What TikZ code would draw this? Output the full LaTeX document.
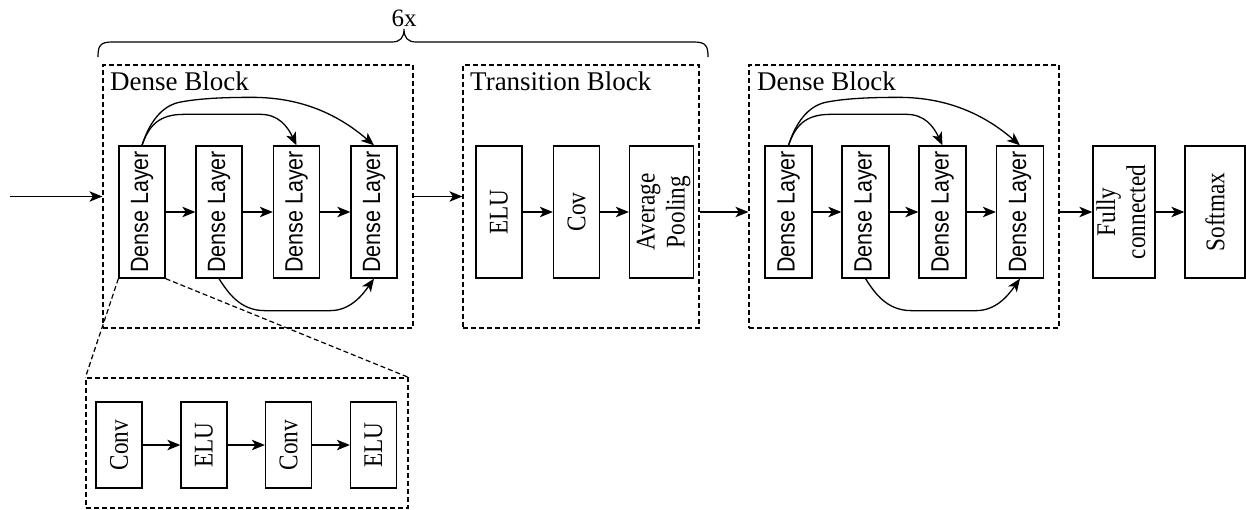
\documentclass[tikz,border=0pt]{standalone}
\usepackage{fontspec}
\setmainfont{Liberation Serif}
\newfontfamily\rsans[FakeStretch=0.86]{Liberation Sans}
\newfontfamily\rserif[FakeStretch=0.86]{Liberation Serif}
\usetikzlibrary{arrows.meta,calc}
\tikzset{
  lay/.style={draw, line width=1.3pt, minimum height=132pt, minimum width=46pt, inner sep=0pt,
    font=\fontsize{25}{30}\selectfont\rsans},
  opbox/.style={draw, line width=1.3pt, minimum height=132pt, minimum width=46pt, inner sep=0pt,
    font=\fontsize{27}{30}\selectfont\rserif},
  dbox/.style={draw, line width=1.2pt, dash pattern=on 5pt off 3pt, inner sep=0pt},
  dline/.style={line width=1.2pt, dash pattern=on 5pt off 3pt},
  arr/.style={line width=1.3pt, -{Stealth[length=13pt,width=10.5pt,inset=3.5pt]}},
  lbl/.style={anchor=base west, inner sep=0pt, font=\fontsize{27}{30}\selectfont},
}
\newcommand\dskips[4]{%
  \draw[arr] (#1.north) .. controls ($(#1.north)+(7,-20)$) and ($(#1.north)+(17,-31)$) .. ($(#1.north)+(42,-31)$)
     -- ($(#3.north)+(-36,-31)$) .. controls ($(#3.north)+(-18,-31)$) and ($(#3.north)+(-9,-19)$) .. (#3.north);
  \draw[arr] (#1.north) .. controls ($(#1.north)+(7,-22)$) and ($(#1.north)+(19,-39)$) .. ($(#1.north)+(37,-43)$)
     .. controls ($(#1.north)+(57,-47)$) and ($(#1.north)+(82,-48)$) .. ($(#1.north)+(110,-48)$)
     .. controls ($(#4.north)+(-84,-48)$) and ($(#4.north)+(-44,-38)$) .. (#4.north);
  \draw[arr] (#2.south) .. controls ($(#2.south)+(9,14)$) and ($(#2.south)+(21,32)$) .. ($(#2.south)+(46,32)$)
     -- ($(#4.south)+(-44,32)$) .. controls ($(#4.south)+(-24,32)$) and ($(#4.south)+(-12,17)$) .. (#4.south);
}
\begin{document}
\begin{tikzpicture}[x=1pt,y=-1pt]
\useasboundingbox (0,0) rectangle (1246,510);

% dashed blocks
\node[dbox, minimum width=310pt, minimum height=263pt] (B1) at (258,196.5) {};
\node[dbox, minimum width=236pt, minimum height=263pt] (T) at (581,196.5) {};
\node[dbox, minimum width=310pt, minimum height=263pt] (B2) at (904,196.5) {};
\node[dbox, minimum width=322pt, minimum height=130pt] (I) at (247,443) {};

\node[lbl] (tb1) at (110,91) {Dense Block};
\node[lbl] (tt) at (470,91) {Transition Block};
\node[lbl] (tb2) at (757,91) {Dense Block};

% brace and 6x
\draw[line width=1.2pt] (98,57) .. controls (98,46) and (100,42) .. (112,42) -- (392,42)
  .. controls (400,42) and (404,38) .. (404,29) .. controls (404,38) and (408,42) .. (416,42)
  -- (694,42) .. controls (706,42) and (708,46) .. (708,57);
\node[inner sep=0pt, font=\fontsize{25}{28}\selectfont] (six) at (404,18) {6x};

% dense block 1
\node[lay] (L1) at (142,212) {\rotatebox{90}{Dense Layer}};
\node[lay] (L2) at (219,212) {\rotatebox{90}{Dense Layer}};
\node[lay] (L3) at (296.5,212) {\rotatebox{90}{Dense Layer}};
\node[lay] (L4) at (374,212) {\rotatebox{90}{Dense Layer}};

% transition
\node[opbox] (E1) at (499,212) {\rotatebox{90}{ELU}};
\node[opbox] (C1) at (576.5,212) {\rotatebox{90}{Cov}};
\node[opbox, minimum width=63pt] (AP) at (661.5,212) {\hspace*{4pt}\rotatebox{90}{\begin{tabular}{@{}c@{}}Average\\Pooling\end{tabular}}};

% dense block 2
\node[lay, minimum width=47pt] (M1) at (788.5,212) {\rotatebox{90}{Dense Layer}};
\node[lay, minimum width=47pt] (M2) at (865.5,212) {\rotatebox{90}{Dense Layer}};
\node[lay, minimum width=47pt] (M3) at (942.5,212) {\rotatebox{90}{Dense Layer}};
\node[lay, minimum width=47pt] (M4) at (1020,212) {\rotatebox{90}{Dense Layer}};

\node[opbox, minimum width=62pt] (FC) at (1124,212) {\rotatebox{90}{\begin{tabular}{@{}c@{}}Fully\\connected\end{tabular}}};
\node[opbox, minimum width=60pt] (SM) at (1215,212) {\rotatebox{90}{Softmax}};

% inner detail
\node[opbox, minimum height=86pt] (D1) at (119,445) {\rotatebox{90}{Conv}};
\node[opbox, minimum height=86pt] (D2) at (204,445) {\rotatebox{90}{ELU}};
\node[opbox, minimum height=86pt] (D3) at (288.5,445) {\rotatebox{90}{Conv}};
\node[opbox, minimum height=86pt] (D4) at (373.5,445) {\rotatebox{90}{ELU}};

% arrows
\coordinate (inp) at (10,196.5);
\draw[arr] (inp) -- (B1.west);
\draw[arr] (B1.east) -- (T.west);
\draw[arr] (AP.east -| T.east) -- (AP.east -| B2.west);
\draw[arr] (FC.west -| B2.east) -- (FC.west);
\draw[arr] (FC) -- (SM);

\draw[arr] (L1) -- (L2);
\draw[arr] (L2) -- (L3);
\draw[arr] (L3) -- (L4);
\draw[arr] (E1) -- (C1);
\draw[arr] (C1) -- (AP);
\draw[arr] (M1) -- (M2);
\draw[arr] (M2) -- (M3);
\draw[arr] (M3) -- (M4);
\draw[arr] (D1) -- (D2);
\draw[arr] (D2) -- (D3);
\draw[arr] (D3) -- (D4);

\dskips{L1}{L2}{L3}{L4}
\dskips{M1}{M2}{M3}{M4}

% zoom lines
\draw[dline] (L1.south west) -- (I.north west);
\draw[dline] (L1.south east) -- (I.north east);
\end{tikzpicture}
\end{document}
